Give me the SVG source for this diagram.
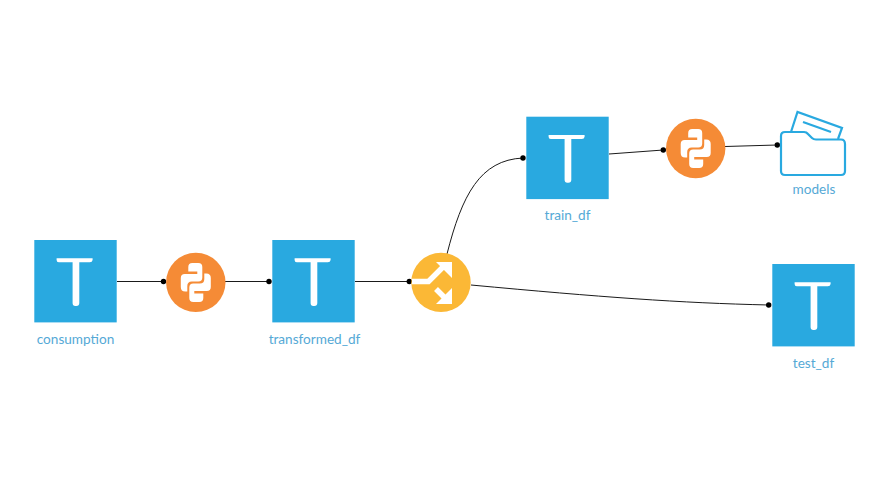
<svg xmlns="http://www.w3.org/2000/svg" width="889" height="500" viewBox="0 0 889 500">
<style>
.lbl{font-family:"Lato","Open Sans","Liberation Sans",sans-serif;font-size:13.6px;fill:#55a9d6;text-anchor:middle}
.sq{fill:#29a9e0}
.edge{fill:none;stroke:#1a1a1a;stroke-width:1}
.dot{fill:#000}
.wl{fill:none;stroke:#fff;stroke-width:5.5}
.fo{fill:none;stroke:#29a9e0;stroke-width:2.2}
</style>
<defs>
<g id="t"><rect class="sq" width="82.4" height="82.4"/><path d="M22.3 18.3H58.3V20Q58 22.3 55.5 22.3H45V63Q45 66 42 66H41Q38.3 66 38.3 63V22.3H24.5Q22.3 22.3 22.3 20Z" fill="#fff"/></g>
<path id="sn" fill="#fff" d="M-3.5-19.5H2.5Q6.5-19.5 6.5-15.5V-5Q6.5-1 2.5-1H-4Q-8.5-1-8.5 3.5V9H-10.5Q-15 9-15 4.5V-4.5Q-15-8.5 -11-8.5H1.5V-11H-7.5V-15.5Q-7.5-19.5-3.5-19.5Z"/>
<g id="py"><circle r="29.7" fill="#f58b36"/><use href="#sn"/><use href="#sn" transform="rotate(180)"/></g>
</defs>
<g id="connectors">
<path class="edge" d="M117 281.5H163.5"/>
<path class="edge" d="M225 281.5H269"/>
<path class="edge" d="M355 281.5H409.3"/>
<path class="edge" d="M447 254C462 195 480 160 523 158"/>
<path class="edge" d="M471 285C600 297 680 303 768.7 305"/>
<path class="edge" d="M609 154L663.3 150"/>
<path class="edge" d="M725 146.5L777.3 145"/>
<circle class="dot" cx="163.5" cy="281.5" r="2.7"/>
<circle class="dot" cx="269" cy="281.5" r="2.7"/>
<circle class="dot" cx="409.3" cy="281.5" r="2.7"/>
<circle class="dot" cx="523" cy="158" r="2.7"/>
<circle class="dot" cx="768.7" cy="305" r="2.7"/>
<circle class="dot" cx="663.3" cy="150" r="2.7"/>
<circle class="dot" cx="777.3" cy="145" r="2.7"/>
</g>
<g id="consumption"><use href="#t" x="34.3" y="240"/><text class="lbl" x="75.5" y="343.5">consumption</text></g>
<g id="py1"><use href="#py" x="195.8" y="282.4"/></g>
<g id="transformed_df"><use href="#t" x="272.3" y="240"/><text class="lbl" x="314.5" y="343.5">transformed_df</text></g>
<g id="split">
<circle cx="441" cy="282.4" r="29.7" fill="#fbb836"/>
<path class="wl" d="M412 281.5H428.5L444 266"/>
<path fill="#fff" d="M436 262H452V278Z"/>
<path class="wl" d="M436 289L445 298"/>
<path fill="#fff" d="M436 304H452V288Z"/>
</g>
<g id="train_df"><use href="#t" x="526.3" y="116.7"/><text class="lbl" x="567.5" y="220">train_df</text></g>
<g id="py2"><use href="#py" x="695.7" y="148.5"/></g>
<g id="models">
<path class="fo" d="M791 132L797.5 112L842 128L838 139"/>
<path class="fo" d="M803 122L831 132"/>
<path d="M785 132H804Q806.5 132 808 134L812 138Q813.5 139.5 816 139.5H841Q845 139.5 845 144V171Q845 175 841 175H785Q781 175 781 171V136Q781 132 785 132Z" fill="#fff" stroke="#29a9e0" stroke-width="2.2"/>
<text class="lbl" x="814" y="194">models</text>
</g>
<g id="test_df"><use href="#t" x="772.3" y="264"/><text class="lbl" x="813.5" y="368">test_df</text></g>
</svg>
